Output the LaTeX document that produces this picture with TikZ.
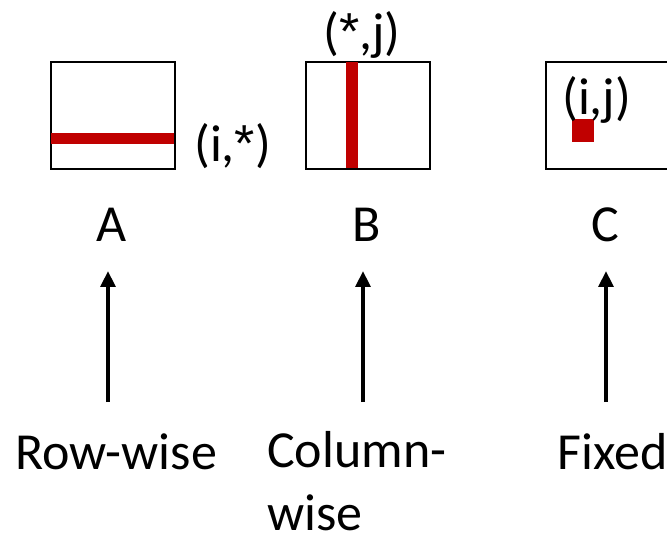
\documentclass[tikz,border=0pt]{standalone}
\usepackage{fontspec}
\setmainfont{Carlito}
\newfontfamily\astfont{Liberation Sans}
\usetikzlibrary{positioning, arrows.meta}
\definecolor{accred}{HTML}{C00000}
\newcommand{\hiast}{{\astfont *}}

\begin{document}
\begin{tikzpicture}[x=0.75pt, y=-0.75pt, font=\fontsize{39}{47}\selectfont,
    matbox/.style={draw, line width=1.5pt, minimum width=93pt, minimum height=80.25pt, inner sep=0pt, anchor=north west},
    lbl/.style={inner sep=0pt, anchor=base west},
    upar/.style={-{Triangle[width=11pt, length=12pt]}, line width=3.5pt}]
  \useasboundingbox (0,0) rectangle (667,534);
  % the three matrices
  \node[matbox] (matA) at (50,61) {};
  \node[matbox] (matB) at (305,61) {};
  \node[matbox] (matC) at (545,61) {};
  \fill[accred] (51,133) rectangle (174,144);
  \fill[accred] (346,62) rectangle (358,168);
  \fill[accred] (572,119) rectangle (594,142);
  \node[lbl] (idxA) at (194,162) {(i,\hiast)};
  \node[lbl] (idxB) at (323,50) {(\hiast,j)};
  \node[lbl] (idxC) at (562,115) {(i,j)};
  \node[inner sep=0pt, anchor=base] (nameA) at (112,242) {A};
  \node[inner sep=0pt, anchor=base] (nameB) at (367,242) {B};
  \node[inner sep=0pt, anchor=base] (nameC) at (605,242) {C};
  % access patterns
  \node[lbl] (rowlbl) at (15,469) {Row-wise};
  \node[lbl, align=left] (collbl) at (267,530) {Column-\\wise};
  \node[lbl] (fixlbl) at (557,469) {Fixed};
  \coordinate (rowtail) at (108,402);
  \coordinate (rowtip) at (108,271);
  \coordinate (coltail) at (363,402);
  \coordinate (coltip) at (363,271);
  \coordinate (fixtail) at (606,402);
  \coordinate (fixtip) at (606,271);
  \draw[upar] (rowtail) -- (rowtip);
  \draw[upar] (coltail) -- (coltip);
  \draw[upar] (fixtail) -- (fixtip);
\end{tikzpicture}
\end{document}
